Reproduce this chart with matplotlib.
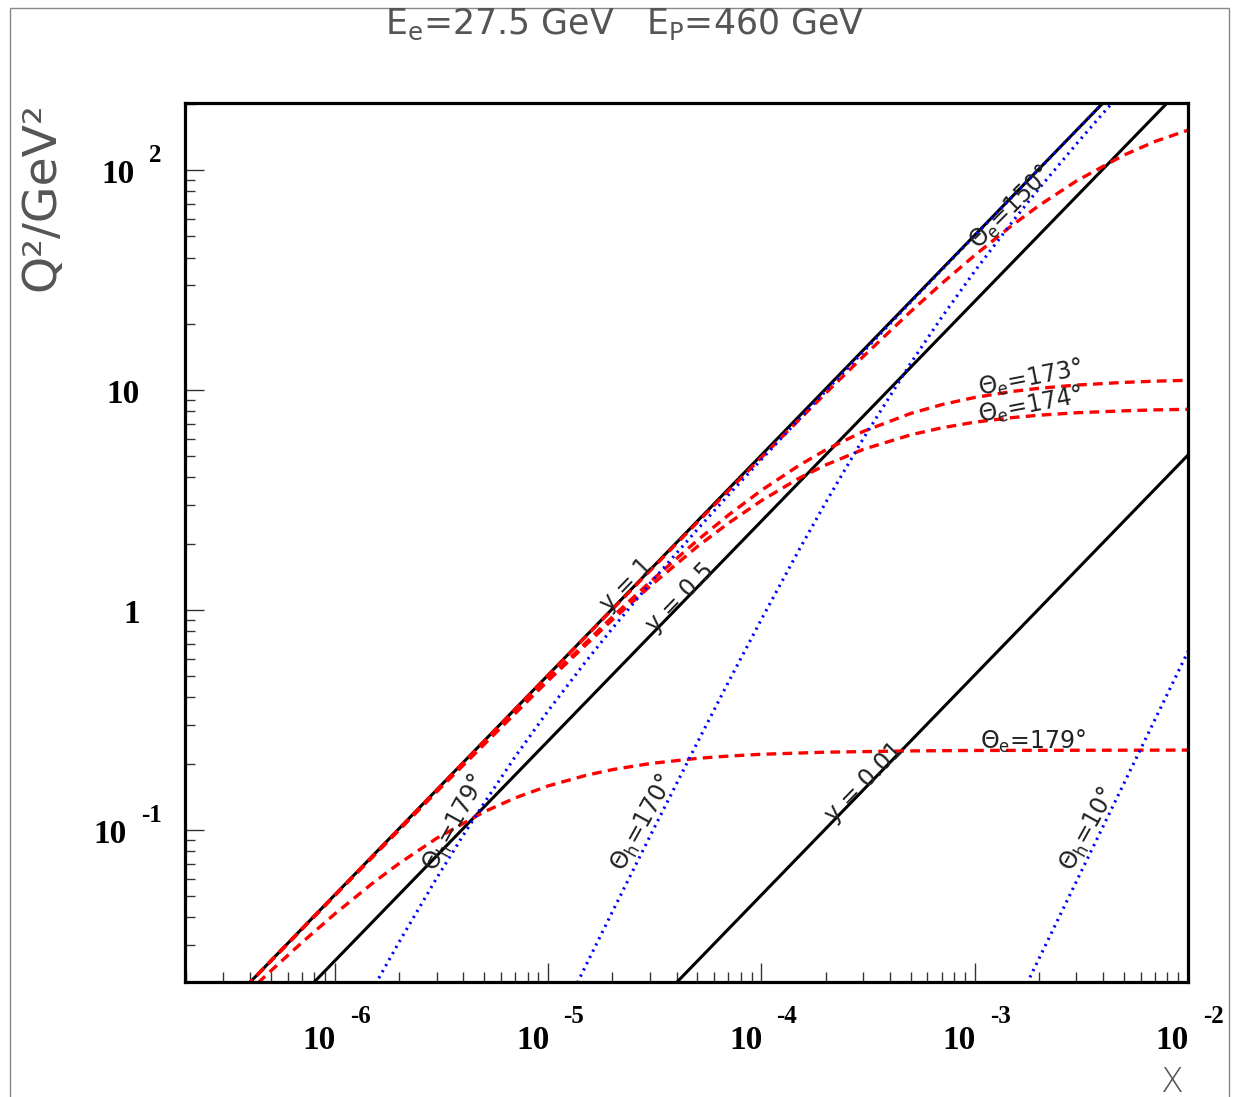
import numpy as np
import matplotlib
matplotlib.use("Agg")
import matplotlib.pyplot as plt
from matplotlib.patches import Rectangle
from matplotlib.ticker import LogLocator, NullFormatter

plt.rcParams['lines.scale_dashes'] = False
plt.rcParams['mathtext.fontset'] = 'dejavusans'

# constant-y lines (x, Q2 end points)
x_y1 = [3e-7, 1e-2]
q2_y1 = [0.0152, 506]
x_y05 = [5e-7, 1e-2]
q2_y05 = [0.0127, 253]
x_y001 = [2e-5, 1e-2]
q2_y001 = [0.0101, 5.06]

# electron angle curves (red dashed)
x_e150 = [3e-7, 1e-6, 1e-5, 5e-5, 1e-4, 2e-4, 3e-4, 5e-4, 7e-4, 1e-3, 1.5e-3, 2e-3, 3e-3, 5e-3, 7e-3, 1e-2]
q2_e150 = [0.0152, 0.0506, 0.505, 2.50, 4.94, 9.67, 14.2, 22.7, 30.5, 41.0, 56.2, 69.0, 89.3, 117, 135, 152]

x_e17x = [3e-7, 1e-6, 3e-6, 1e-5, 2e-5, 3e-5, 5e-5, 7e-5, 1e-4, 1.5e-4, 2e-4, 3e-4,
          5e-4, 7e-4, 1e-3, 1.5e-3, 2e-3, 3e-3, 5e-3, 7e-3, 1e-2]
q2_e173 = [0.0152, 0.0504, 0.150, 0.484, 0.929, 1.34, 2.07, 2.70, 3.50, 4.54, 5.34, 6.48,
           7.82, 8.58, 9.25, 9.85, 10.18, 10.53, 10.83, 10.97, 11.07]
q2_e174 = [0.0152, 0.0503, 0.149, 0.477, 0.902, 1.28, 1.94, 2.48, 3.14, 3.97, 4.56, 5.37,
           6.25, 6.73, 7.14, 7.49, 7.68, 7.88, 8.04, 8.12, 8.17]

x_e179 = [3e-7, 4e-7, 5e-7, 7e-7, 1e-6, 1.5e-6, 2e-6, 3e-6, 5e-6, 7e-6, 1e-5, 1.5e-5,
          2e-5, 3e-5, 5e-5, 7e-5, 1e-4, 2e-4, 5e-4, 1e-3, 1e-2]
q2_e179 = [0.0142, 0.0186, 0.0228, 0.0307, 0.0415, 0.0571, 0.0703, 0.0915, 0.1206, 0.1396,
           0.1583, 0.1767, 0.1877, 0.2000, 0.2112, 0.2163, 0.2204, 0.2253, 0.2283, 0.2294, 0.2303]

# hadron angle curves (blue dotted)
x_h179 = [1.2e-6, 1.5e-6, 2e-6, 3e-6, 4e-6, 5e-6, 7e-6, 1e-5, 1.5e-5, 2e-5, 3e-5, 5e-5,
          7e-5, 1e-4, 2e-4, 5e-4, 1e-3, 2e-3, 4e-3, 5e-3]
q2_h179 = [0.0127, 0.0188, 0.0309, 0.0603, 0.0947, 0.132, 0.215, 0.348, 0.582, 0.824, 1.318, 2.32,
           3.33, 4.84, 9.89, 25.07, 50.37, 101.0, 202.2, 252.8]
x_h170 = [1.2e-5, 1.5e-5, 2e-5, 3e-5, 5e-5, 7e-5, 1e-4, 1.5e-4, 2e-4, 3e-4, 5e-4, 7e-4,
          1e-3, 1.5e-3, 2e-3, 3e-3, 4e-3, 5e-3]
q2_h170 = [0.0155, 0.0241, 0.0424, 0.0934, 0.249, 0.470, 0.907, 1.874, 3.078, 6.011, 13.21, 21.42,
           34.72, 58.16, 82.36, 131.7, 181.6, 231.8]
x_h10 = [1.7e-3, 2e-3, 3e-3, 5e-3, 7e-3, 1e-2]
q2_h10 = [0.0187, 0.0259, 0.0583, 0.162, 0.317, 0.647]

# tick labels
x_tick_vals = [1e-6, 1e-5, 1e-4, 1e-3, 1e-2]
x_tick_exp = ["-6", "-5", "-4", "-3", "-2"]
y_tick_vals = [0.1, 1, 10, 100]
y_tick_base = ["10", "1", "10", "10"]
y_tick_exp = ["-1", "", "", "2"]

W, H = 1233, 1097
fig = plt.figure(figsize=(W / 100, H / 100), dpi=100)
ax = fig.add_axes([185 / W, (H - 982) / H, (1188 - 185) / W, (982 - 103) / H])
ax.set_xscale('log')
ax.set_yscale('log')

black = dict(color='black', lw=2.2, zorder=2)
red = dict(color='#ff0000', lw=2.4, ls=(0, (7, 4.5)), zorder=3)
blue = dict(color='#0000ff', lw=2.2, ls=(0, (1.6, 3.4)), zorder=4)

ax.plot(x_y1, q2_y1, **black)
ax.plot(x_y05, q2_y05, **black)
ax.plot(x_y001, q2_y001, **black)

ax.plot(x_e150, q2_e150, **red)
ax.plot(x_e17x, q2_e173, **red)
ax.plot(x_e17x, q2_e174, **red)
ax.plot(x_e179, q2_e179, **red)

ax.plot(x_h179, q2_h179, **blue)
ax.plot(x_h170, q2_h170, **blue)
ax.plot(x_h10, q2_h10, **blue)

ax.set_xlim(1.98e-7, 1e-2)
ax.set_ylim(0.0203, 202)

for sp in ax.spines.values():
    sp.set_linewidth(2.3)
    sp.set_zorder(5)

ax.xaxis.set_major_locator(LogLocator(base=10, numticks=20))
ax.yaxis.set_major_locator(LogLocator(base=10, numticks=20))
ax.xaxis.set_minor_locator(LogLocator(base=10, subs=np.arange(2, 10), numticks=20))
ax.yaxis.set_minor_locator(LogLocator(base=10, subs=np.arange(2, 10), numticks=20))
ax.xaxis.set_minor_formatter(NullFormatter())
ax.yaxis.set_minor_formatter(NullFormatter())
ax.tick_params(which='both', direction='in', top=False, right=False,
               labelbottom=False, labelleft=False, color='#333')
ax.tick_params(which='major', length=14, width=1)
ax.tick_params(which='minor', length=7, width=1)

# ROOT style tick labels: bold "10" plus a detached exponent
tfont = dict(family=['Liberation Serif', 'DejaVu Serif'], fontweight='bold', color='black')
xtr = ax.get_xaxis_transform()
for v, e in zip(x_tick_vals, x_tick_exp):
    ax.annotate("10", xy=(v, 0), xycoords=xtr, xytext=(1, -67), textcoords='offset pixels',
                ha='right', va='baseline', fontsize=24, annotation_clip=False, **tfont)
    ax.annotate(e, xy=(v, 0), xycoords=xtr, xytext=(15, -41), textcoords='offset pixels',
                ha='left', va='baseline', fontsize=18, annotation_clip=False, **tfont)

ytr = ax.get_yaxis_transform()
for v, b, e in zip(y_tick_vals, y_tick_base, y_tick_exp):
    if e:
        base_dx = -50 if len(e) == 1 else -58
        ax.annotate(b, xy=(0, v), xycoords=ytr, xytext=(base_dx, -13), textcoords='offset pixels',
                    ha='right', va='baseline', fontsize=24, annotation_clip=False, **tfont)
        ax.annotate(e, xy=(0, v), xycoords=ytr, xytext=(base_dx + 14, 8), textcoords='offset pixels',
                    ha='left', va='baseline', fontsize=18, annotation_clip=False, **tfont)
    else:
        ax.annotate(b, xy=(0, v), xycoords=ytr, xytext=(-45, -13), textcoords='offset pixels',
                    ha='right', va='baseline', fontsize=24, annotation_clip=False, **tfont)

# curve labels
lab = dict(color='#222222', fontsize=17, ha='center', va='center', zorder=6)
ax.text(2.32e-5, 1.30, "y = 1", rotation=46, **lab)
ax.text(4.16e-5, 1.14, "y = 0.5", rotation=46, **lab)
ax.text(3.03e-4, 0.165, "y = 0.01", rotation=46, **lab)
ax.text(3.67e-6, 0.107, r"$\Theta_\mathrm{h}$=179°", rotation=61, **lab)
ax.text(2.79e-5, 0.108, r"$\Theta_\mathrm{h}$=170°", rotation=61, **lab)
ax.text(3.39e-3, 0.100, r"$\Theta_\mathrm{h}$=10°", rotation=61, **lab)
ax.text(1.88e-3, 0.251, r"$\Theta_\mathrm{e}$=179°", rotation=0, **lab)
ax.text(1.82e-3, 11.3, r"$\Theta_\mathrm{e}$=173°", rotation=11, **lab)
ax.text(1.82e-3, 8.53, r"$\Theta_\mathrm{e}$=174°", rotation=11, **lab)
ax.text(1.48e-3, 67.1, r"$\Theta_\mathrm{e}$=150°", rotation=45, **lab)

# axis titles and header
gray = '#555555'
fig.text(625 / W, 1 - 24 / H, r"E$_\mathrm{e}$=27.5 GeV   E$_\mathrm{P}$=460 GeV", ha='center',
         va='center', fontsize=25, color=gray)
fig.text(42 / W, 1 - 197 / H, "Q²/GeV²", rotation=90, ha='center', va='center',
         fontsize=34, color=gray)
fig.text(1183 / W, 1 - 1092 / H, "X", ha='right', va='baseline', fontsize=24, color=gray,
         fontweight='light')

# thin outer frame of the canvas
fig.add_artist(Rectangle((10 / W, -0.02), (1229 - 10) / W, 1 - 8 / H + 0.02,
                         transform=fig.transFigure, fill=False, ec='#888888', lw=1))

fig.savefig("out.png", dpi=100)
